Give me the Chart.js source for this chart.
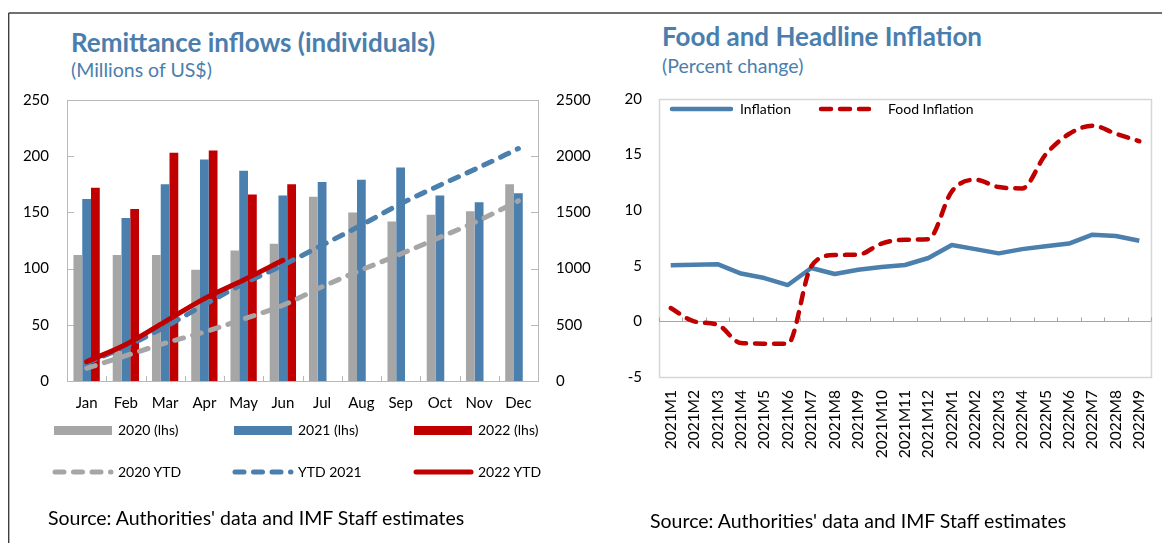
<!DOCTYPE html>
<html>
<head>
<meta charset="utf-8">
<script src="https://cdn.jsdelivr.net/npm/chart.js@4.4.0/dist/chart.umd.min.js"></script>
<style>
body{margin:0;background:#fff;}
#page{position:relative;width:1162px;height:543px;overflow:hidden;font-family:Lato,"Open Sans",sans-serif;color:#000;}
.tt{position:absolute;white-space:nowrap;color:#4a7ead;line-height:1;}
.big{font-weight:bold;font-size:26px;}
.sub{font-size:19.5px;}
.lg{position:absolute;white-space:nowrap;font-size:14px;line-height:1;}
.src{position:absolute;white-space:nowrap;font-size:19.5px;line-height:1;}
canvas{position:absolute;}
svg{position:absolute;left:0;top:0;}
</style>
</head>
<body>
<div id="page">
<div class="tt big" style="left:71px;top:29px">Remittance inflows (individuals)</div>
<div class="tt sub" style="left:71px;top:60px">(Millions of US$)</div>
<div class="tt big" style="left:662px;top:23px">Food and Headline Inflation</div>
<div class="tt sub" style="left:662px;top:56px">(Percent change)</div>

<canvas id="rem" style="left:10px;top:90px" width="590" height="331"></canvas>
<canvas id="infl" style="left:600px;top:90px" width="562" height="372"></canvas>

<svg width="1162" height="543">
<line x1="8.7" y1="13" x2="1162" y2="13" stroke="#404040" stroke-width="1.4"/>
<line x1="8.7" y1="13" x2="8.7" y2="543" stroke="#404040" stroke-width="1.4"/>
<rect x="54" y="426" width="58" height="9" fill="#a6a6a6"/>
<rect x="234" y="426" width="58" height="9" fill="#4a7fae"/>
<rect x="414" y="426" width="58" height="9" fill="#c00000"/>
<line x1="55" y1="472" x2="111" y2="472" stroke="#a6a6a6" stroke-width="5" stroke-linecap="round" stroke-dasharray="9 9.5"/>
<line x1="235" y1="472" x2="291" y2="472" stroke="#4a7fae" stroke-width="5" stroke-linecap="round" stroke-dasharray="9 9.5"/>
<line x1="416" y1="472" x2="471" y2="472" stroke="#c00000" stroke-width="5" stroke-linecap="round"/>
<line x1="672" y1="109" x2="731" y2="109" stroke="#4a7fae" stroke-width="4.5" stroke-linecap="round"/>
<line x1="821" y1="109" x2="877" y2="109" stroke="#c00000" stroke-width="4.5" stroke-linecap="round" stroke-dasharray="10 9"/>
</svg>

<div class="lg" style="left:118px;top:423px">2020 (lhs)</div>
<div class="lg" style="left:298px;top:423px">2021 (lhs)</div>
<div class="lg" style="left:478px;top:423px">2022 (lhs)</div>
<div class="lg" style="left:118px;top:465px">2020 YTD</div>
<div class="lg" style="left:298px;top:465px">YTD 2021</div>
<div class="lg" style="left:478px;top:465px">2022 YTD</div>
<div class="lg" style="left:740px;top:102px">Inflation</div>
<div class="lg" style="left:888px;top:102px">Food Inflation</div>

<div class="src" style="left:48px;top:508px">Source: Authorities' data and IMF Staff estimates</div>
<div class="src" style="left:650px;top:511px">Source: Authorities' data and IMF Staff estimates</div>
</div>

<script>
// remittances, millions of US$
var months=["Jan","Feb","Mar","Apr","May","Jun","Jul","Aug","Sep","Oct","Nov","Dec"];
var rem2020=[112,112,112,99,116,122,164,150,142,148,151,175];
var rem2021=[162,145,175,197,187,165,177,179,190,165,159,167];
var rem2022=[172,153,203,205,166,175,null,null,null,null,null,null];
var ytd2020=[113,225,337,436,552,674,838,988,1130,1278,1429,1603];
var ytd2021=[162,307,482,679,866,1031,1208,1387,1577,1742,1901,2068];
var ytd2022=[172,325,528,733,899,1074];

// inflation, percent change
var periods=["2021M1","2021M2","2021M3","2021M4","2021M5","2021M6","2021M7","2021M8","2021M9","2021M10","2021M11","2021M12",
  "2022M1","2022M2","2022M3","2022M4","2022M5","2022M6","2022M7","2022M8","2022M9"];
var inflation=[5.04,5.1,5.15,4.3,3.9,3.27,4.8,4.26,4.65,4.9,5.07,5.7,6.87,6.5,6.12,6.5,6.75,7.0,7.8,7.68,7.26];
var foodInflation=[1.2,0.0,-0.3,-1.95,-2.0,-2.0,4.95,5.97,6.0,7.0,7.35,7.4,11.7,12.74,12.08,11.96,15.0,16.85,17.6,16.88,16.2];

var FONT="Lato";
var GREY="#a6a6a6", BLUE="#4a7fae", RED="#c00000";

// fixed axis sizes, no label overhang padding, so the plot box lands where we want it
function fixW(w){return function(s){s.width=w;s.paddingTop=0;s.paddingBottom=0;};}
function fixH(h){return function(s){s.height=h;s.paddingLeft=0;s.paddingRight=0;};}
function plain(v){return String(v);}

var remFrame={id:'remFrame',beforeDatasetsDraw:function(chart){
  var c=chart.ctx,a=chart.chartArea,sx=chart.scales.x,sy=chart.scales.y,sy2=chart.scales.y2;
  c.save();
  c.strokeStyle='#b8b8b8';c.lineWidth=1;
  c.beginPath();
  sy.ticks.forEach(function(t){var y=Math.round(sy.getPixelForValue(t.value))+0.5;c.moveTo(a.left,y);c.lineTo(a.left+7,y);});
  sy2.ticks.forEach(function(t){var y=Math.round(sy2.getPixelForValue(t.value))+0.5;c.moveTo(a.right-7,y);c.lineTo(a.right,y);});
  for(var i=0;i<=months.length;i++){
    var x=Math.round(sx.getPixelForValue(i-0.5))+0.5;
    c.moveTo(x,a.bottom);c.lineTo(x,a.bottom-5);
  }
  c.stroke();
  c.strokeRect(Math.round(a.left)+0.5,Math.round(a.top)+0.5,Math.round(a.right-a.left),Math.round(a.bottom-a.top));
  c.restore();
}};

var inflFrame={id:'inflFrame',beforeDatasetsDraw:function(chart){
  var c=chart.ctx,a=chart.chartArea,sx=chart.scales.x,sy=chart.scales.y;
  var y0=Math.round(sy.getPixelForValue(0))+0.5;
  c.save();
  c.strokeStyle='#d6d6d6';c.lineWidth=1.5;
  c.strokeRect(Math.round(a.left)+0.5,Math.round(a.top)+0.5,Math.round(a.right-a.left),Math.round(a.bottom-a.top));
  c.strokeStyle='#a6a6a6';c.lineWidth=1;
  c.beginPath();
  c.moveTo(a.left,y0);c.lineTo(a.right,y0);
  for(var i=0;i<=periods.length;i++){
    var x=Math.round(sx.getPixelForValue(i-0.5))+0.5;
    c.moveTo(x,y0);c.lineTo(x,y0-4);
  }
  c.stroke();
  c.restore();
}};

new Chart(document.getElementById('rem'),{
  type:'bar',
  data:{
    labels:months,
    datasets:[
      {label:'2020 (lhs)',data:rem2020,backgroundColor:GREY,yAxisID:'y',order:5},
      {label:'2021 (lhs)',data:rem2021,backgroundColor:BLUE,yAxisID:'y',order:5},
      {label:'2022 (lhs)',data:rem2022,backgroundColor:RED,yAxisID:'y',order:5},
      {type:'line',label:'2020 YTD',data:ytd2020,yAxisID:'y2',borderColor:GREY,borderWidth:5,borderDash:[9,9.5],borderCapStyle:'round',pointRadius:0,cubicInterpolationMode:'monotone',order:3},
      {type:'line',label:'YTD 2021',data:ytd2021,yAxisID:'y2',borderColor:BLUE,borderWidth:5,borderDash:[9,9.5],borderCapStyle:'round',pointRadius:0,cubicInterpolationMode:'monotone',order:2},
      {type:'line',label:'2022 YTD',data:ytd2022,yAxisID:'y2',borderColor:RED,borderWidth:5,borderCapStyle:'round',pointRadius:0,cubicInterpolationMode:'monotone',order:1}
    ]
  },
  options:{
    responsive:false,animation:false,
    layout:{padding:{top:10,left:0,right:0,bottom:0}},
    datasets:{bar:{categoryPercentage:0.67,barPercentage:1.0}},
    plugins:{legend:{display:false},tooltip:{enabled:false}},
    scales:{
      x:{grid:{display:false,drawTicks:false},border:{display:false},
         ticks:{color:'#000',font:{family:FONT,size:15},padding:13,maxRotation:0},
         afterFit:fixH(40)},
      y:{position:'left',min:0,max:250,grid:{display:false,drawTicks:false},border:{display:false},
         ticks:{stepSize:50,color:'#000',font:{family:FONT,size:15},padding:18,callback:plain},
         afterFit:fixW(57)},
      y2:{position:'right',min:0,max:2500,grid:{display:false,drawTicks:false},border:{display:false},
         ticks:{stepSize:500,color:'#000',font:{family:FONT,size:15},padding:18,callback:plain},
         afterFit:fixW(62)}
    }
  },
  plugins:[remFrame]
});

new Chart(document.getElementById('infl'),{
  type:'line',
  data:{
    labels:periods,
    datasets:[
      {label:'Inflation',data:inflation,borderColor:BLUE,borderWidth:4.5,pointRadius:0,tension:0,borderJoinStyle:'round',order:2},
      {label:'Food Inflation',data:foodInflation,borderColor:RED,borderWidth:4.5,borderDash:[10,9],borderCapStyle:'round',pointRadius:0,cubicInterpolationMode:'monotone',order:1}
    ]
  },
  options:{
    responsive:false,animation:false,
    layout:{padding:{top:9,left:0,right:11,bottom:0}},
    plugins:{legend:{display:false},tooltip:{enabled:false}},
    scales:{
      x:{offset:true,grid:{display:false,drawTicks:false},border:{display:false},
         ticks:{color:'#000',font:{family:FONT,size:15.5},padding:13,autoSkip:false,minRotation:90,maxRotation:90},
         afterFit:fixH(85)},
      y:{min:-5,max:20,grid:{display:false,drawTicks:false},border:{display:false},
         ticks:{stepSize:5,color:'#000',font:{family:FONT,size:15},padding:17,callback:plain},
         afterFit:fixW(59)}
    }
  },
  plugins:[inflFrame]
});
</script>
</body>
</html>
